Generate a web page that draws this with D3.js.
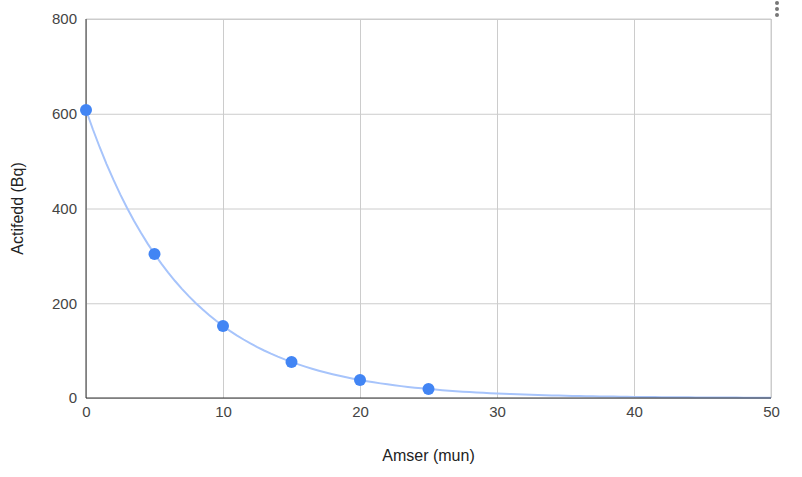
<!DOCTYPE html>
<html>
<head>
<meta charset="utf-8">
<script src="https://cdn.jsdelivr.net/npm/d3@7"></script>
<style>
  body { margin: 0; background: #fff; }
  text { font-family: "Liberation Sans", Arial, sans-serif; }
</style>
</head>
<body>
<svg width="802" height="477"></svg>
<script>
// data
var times = [0, 5, 10, 15, 20, 25];
var activity = [608, 304, 152, 76, 38, 19];
var xTicks = [0, 10, 20, 30, 40, 50];
var yTicks = [0, 200, 400, 600, 800];

var svg = d3.select("svg"),
    margin = {top: 19, right: 31, bottom: 79, left: 86},
    width = 802 - margin.left - margin.right,
    height = 477 - margin.top - margin.bottom,
    g = svg.append("g").attr("transform", "translate(" + margin.left + "," + margin.top + ")");

var x = d3.scaleLinear().domain([0, 50]).range([0, width]),
    y = d3.scaleLinear().domain([0, 800]).range([height, 0]);

// gridlines
g.append("g")
    .call(d3.axisBottom(x).tickValues(xTicks).tickSize(height).tickFormat(""))
    .call(function(s) { s.select(".domain").remove(); })
    .selectAll("line").attr("stroke", "#ccc");
g.append("g")
    .call(d3.axisLeft(y).tickValues(yTicks).tickSize(-width).tickFormat(""))
    .call(function(s) { s.select(".domain").remove(); })
    .selectAll("line").attr("stroke", "#ccc");

// outer frame top/right
g.append("line").attr("x1", width).attr("x2", width).attr("y1", 0).attr("y2", height).attr("stroke", "#ccc");
g.append("line").attr("x1", 0).attr("x2", width).attr("y1", 0).attr("y2", 0).attr("stroke", "#ccc");

// tick labels
var xAxis = g.append("g")
    .attr("transform", "translate(0," + height + ")")
    .call(d3.axisBottom(x).tickValues(xTicks).tickSize(0).tickPadding(8));
xAxis.select(".domain").remove();
xAxis.selectAll("text").attr("fill", "#444").style("font-size", "15px");

var yAxis = g.append("g")
    .call(d3.axisLeft(y).tickValues(yTicks).tickSize(0).tickPadding(9));
yAxis.select(".domain").remove();
yAxis.selectAll("text").attr("fill", "#444").style("font-size", "15px");

// exponential trendline fitted to the data (least squares on log y)
var lx = times, ly = activity.map(function(v) { return Math.log(v); });
var mx = d3.mean(lx), my = d3.mean(ly);
var b = d3.sum(lx, function(v, i) { return (v - mx) * (ly[i] - my); }) /
        d3.sum(lx, function(v) { return (v - mx) * (v - mx); });
var a = Math.exp(my - b * mx);
var trend = d3.range(0, 50.01, 0.5).map(function(t) { return [t, a * Math.exp(b * t)]; });

var line = d3.line()
    .x(function(d) { return x(d[0]); })
    .y(function(d) { return y(d[1]); });

g.append("path")
    .datum(trend)
    .attr("d", line)
    .attr("fill", "none")
    .attr("stroke", "#a7c4fb")
    .attr("stroke-width", 2);

// axis lines
g.append("line").attr("x1", 0).attr("x2", 0).attr("y1", 0).attr("y2", height).attr("stroke", "#333");
g.append("line").attr("x1", 0).attr("x2", width).attr("y1", height).attr("y2", height).attr("stroke", "#333");

// points
g.selectAll(".dot")
    .data(times)
    .enter().append("circle")
    .attr("class", "dot")
    .attr("cx", function(d) { return x(d); })
    .attr("cy", function(d, i) { return y(activity[i]); })
    .attr("r", 6)
    .attr("fill", "#4285f4");

// axis titles
svg.append("text")
    .attr("x", margin.left + width / 2)
    .attr("y", 461)
    .attr("text-anchor", "middle")
    .attr("fill", "#222")
    .style("font-size", "16px")
    .text("Amser (mun)");

svg.append("text")
    .attr("transform", "translate(23," + (margin.top + height / 2) + ") rotate(-90)")
    .attr("text-anchor", "middle")
    .attr("fill", "#222")
    .style("font-size", "16px")
    .text("Actifedd (Bq)");

// menu dots top right
svg.selectAll(".menu")
    .data([3, 9, 15])
    .enter().append("circle")
    .attr("cx", 777)
    .attr("cy", function(d) { return d; })
    .attr("r", 2)
    .attr("fill", "#777");
</script>
</body>
</html>
